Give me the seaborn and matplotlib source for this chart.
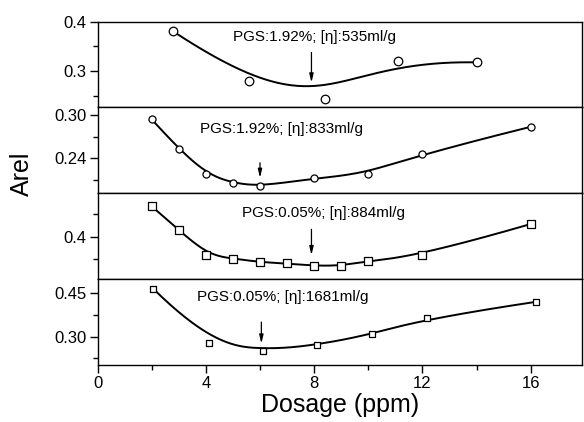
import numpy as np
import matplotlib
matplotlib.use('Agg')
import matplotlib.pyplot as plt
import seaborn as sns

# Dosage (ppm) and Arel, top to bottom
dose_535 = [2.8, 5.6, 8.4, 11.1, 14.0]
arel_535 = [0.380, 0.280, 0.245, 0.321, 0.318]

dose_833 = [2, 3, 4, 5, 6, 8, 10, 12, 16]
arel_833 = [0.294, 0.253, 0.218, 0.206, 0.201, 0.2125, 0.2186, 0.2465, 0.2837]

dose_884 = [2, 3, 4, 5, 6, 7, 8, 9, 10, 12, 16]
arel_884 = [0.467, 0.415, 0.360, 0.352, 0.344, 0.341, 0.336, 0.336, 0.347, 0.359, 0.428]

dose_1681 = [2.05, 4.1, 6.1, 8.1, 10.15, 12.15, 16.2]
arel_1681 = [0.467, 0.277, 0.251, 0.272, 0.308, 0.364, 0.421]

panel_labels = ['PGS:1.92%; [η]:535ml/g', 'PGS:1.92%; [η]:833ml/g',
                'PGS:0.05%; [η]:884ml/g', 'PGS:0.05%; [η]:1681ml/g']
arrow_dose = [7.9, 6.0, 7.9, 6.05]  # dose of the minimum, marked with an arrow

x_ticks = [0, 4, 8, 12, 16]


def bspline(x, y, k=3, n=300):
    # clamped cubic B-spline using the data points as control points (Origin style)
    pts = np.column_stack([x, y])
    m = len(pts)
    k = min(k, m - 1)
    knots = np.concatenate([np.zeros(k), np.linspace(0, 1, m - k + 1), np.ones(k)])
    u = np.linspace(0, 1, n)
    N = np.zeros((n, len(knots) - 1))
    for i in range(len(knots) - 1):
        N[:, i] = (u >= knots[i]) & (u < knots[i + 1])
    last = np.where(knots[:-1] < knots[1:])[0][-1]
    N[u == knots[-1], last] = 1
    for p in range(1, k + 1):
        Nn = np.zeros((n, len(knots) - 1 - p))
        for i in range(len(knots) - 1 - p):
            d1 = knots[i + p] - knots[i]
            d2 = knots[i + p + 1] - knots[i + 1]
            a = (u - knots[i]) / d1 * N[:, i] if d1 > 0 else 0
            b = (knots[i + p + 1] - u) / d2 * N[:, i + 1] if d2 > 0 else 0
            Nn[:, i] = a + b
        N = Nn
    c = N @ pts
    return c[:, 0], c[:, 1]


sns.set_style('ticks')
plt.rcParams['font.family'] = ['Liberation Sans', 'DejaVu Sans']
plt.rcParams['axes.edgecolor'] = 'black'
plt.rcParams['axes.linewidth'] = 1.0
plt.rcParams['xtick.color'] = 'black'
plt.rcParams['ytick.color'] = 'black'
plt.rcParams['text.color'] = 'black'
plt.rcParams['axes.labelcolor'] = 'black'

fig = plt.figure(figsize=(5.84, 4.22), dpi=100)
axes = fig.subplots(4, 1, sharex=True, gridspec_kw=dict(hspace=0))
fig.subplots_adjust(left=0.167, right=0.997, top=0.949, bottom=0.135)

series = [(dose_535, arel_535, 'o', 38), (dose_833, arel_833, 'o', 26),
          (dose_884, arel_884, 's', 26), (dose_1681, arel_1681, 's', 18)]
ylims = [(0.2276, 0.40), (0.1916, 0.3106), (0.3065, 0.4957), (0.202, 0.4994)]
yticks = [[0.3, 0.4], [0.24, 0.30], [0.4], [0.30, 0.45]]
ytick_labels = [['0.3', '0.4'], ['0.24', '0.30'], ['0.4'], ['0.30', '0.45']]
yminor = [[0.25, 0.35], [0.21, 0.27], [0.35, 0.45], [0.225, 0.375]]
arrow_span = [(0.64, 0.29), (0.355, 0.18), (0.58, 0.28), (0.50, 0.25)]
label_pos = [(8.0, 0.82), (6.8, 0.75), (8.35, 0.77), (6.85, 0.79)]

for i, ax in enumerate(axes):
    dose, arel, mk, size = series[i]
    cx, cy = bspline(dose, arel)
    sns.lineplot(x=cx, y=cy, sort=False, estimator=None, color='black', lw=1.4, ax=ax)
    sns.scatterplot(x=dose, y=arel, marker=mk, s=size, facecolor='white',
                    edgecolor='black', linewidth=0.9, ax=ax, zorder=3)
    ax.set_ylim(*ylims[i])
    ax.set_yticks(yticks[i])
    ax.set_yticklabels(ytick_labels[i])
    ax.set_yticks(yminor[i], minor=True)
    ax.tick_params(axis='y', which='major', direction='out', length=6, width=1, labelsize=12, pad=2)
    ax.tick_params(axis='y', which='minor', direction='out', length=3.5, width=1)
    ax.set_ylabel('')

    y0, y1 = arrow_span[i]
    ax.annotate('', xy=(arrow_dose[i], y1), xycoords=('data', 'axes fraction'),
                xytext=(arrow_dose[i], y0), textcoords=('data', 'axes fraction'),
                arrowprops=dict(arrowstyle='-|>,head_length=0.5,head_width=0.12',
                                color='black', lw=0.9, shrinkA=0, shrinkB=0))
    tx, ty = label_pos[i]
    ax.text(tx, ty, panel_labels[i], transform=ax.get_xaxis_transform(),
            ha='center', va='center', fontsize=11)
    if i < 3:
        ax.tick_params(axis='x', which='both', bottom=False, labelbottom=False)

ax = axes[-1]
ax.set_xlim(0, 17.9)
ax.set_xticks(x_ticks)
ax.set_xticks([2, 6, 10, 14], minor=True)
ax.tick_params(axis='x', which='major', direction='out', length=6, width=1, labelsize=12, pad=2)
ax.tick_params(axis='x', which='minor', direction='out', length=3.5, width=1)
ax.set_xlabel('Dosage (ppm)', fontsize=18, labelpad=1)

fig.text(22 / 584, 1 - 174 / 422, 'Arel', rotation=90, fontsize=18, ha='center', va='center')

fig.savefig('out.png', dpi=100)
